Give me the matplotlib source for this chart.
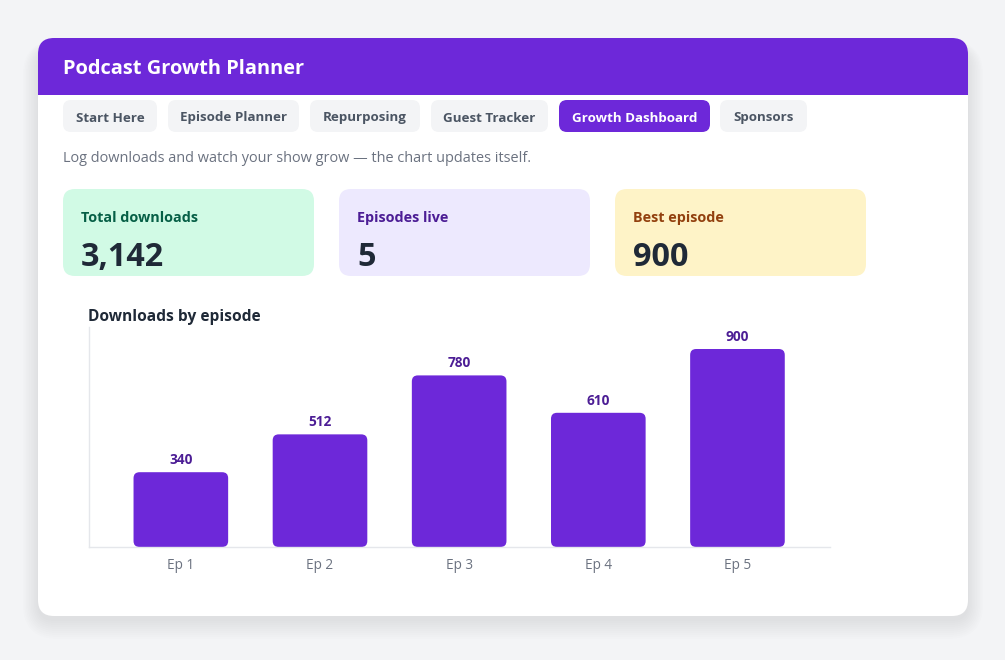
import matplotlib.pyplot as plt
from matplotlib.patches import FancyBboxPatch, Rectangle

plt.rcParams['font.family'] = ['Open Sans', 'DejaVu Sans']

# data
episodes = ['Ep 1', 'Ep 2', 'Ep 3', 'Ep 4', 'Ep 5']
downloads = [340, 512, 780, 610, 900]
tabs = ['Start Here', 'Episode Planner', 'Repurposing', 'Guest Tracker', 'Growth Dashboard', 'Sponsors']
active_tab = 'Growth Dashboard'
kpi_labels = ['Total downloads', 'Episodes live', 'Best episode']
kpi_values = ['{:,}'.format(sum(downloads)), str(len(downloads)), str(max(downloads))]

PURPLE = '#6d28d9'
W, H = 1005, 660

fig = plt.figure(figsize=(W / 100, H / 100), dpi=100)
fig.patch.set_facecolor('#f3f4f6')
bg = fig.add_axes([0, 0, 1, 1])
bg.set_xlim(0, W)
bg.set_ylim(H, 0)
bg.axis('off')


def rr(x0, y0, x1, y1, r, color, alpha=1, z=1):
	p = FancyBboxPatch((x0, y0), x1 - x0, y1 - y0, boxstyle='round,pad=0,rounding_size=%s' % r,
		facecolor=color, edgecolor='none', alpha=alpha, zorder=z)
	bg.add_patch(p)
	return p


# card shadow (soft, mostly below)
for i in range(10):
	g = 1 + i * 2
	rr(38 - g * 0.8, 38 + 12 - g * 0.5, 968 + g * 0.8, 616 + 4 + g, 16 + g, '#111827', 0.009, 0)

rr(38, 38, 968, 616, 16, 'white', z=1)
# header
rr(38, 38, 968, 115, 16, PURPLE, z=2)
bg.add_patch(Rectangle((38, 95), 930, 30, facecolor='white', edgecolor='none', zorder=3))
bg.text(63, 74.5, 'Podcast Growth Planner', color='white', fontsize=14.4, fontweight='bold', va='baseline', zorder=4)

# tabs
tab_x = [(63, 157), (168, 299), (310, 420), (431, 548), (559, 710), (720, 807)]
for (x0, x1), t in zip(tab_x, tabs):
	on = t == active_tab
	rr(x0, 100, x1, 132, 8, PURPLE if on else '#f3f4f6', z=4)
	bg.text((x0 + x1) / 2, 121.5, t, color='white' if on else '#4b5563', fontsize=9.6,
		fontweight='bold', ha='center', va='baseline', zorder=5)

bg.text(63, 162, 'Log downloads and watch your show grow \u2014 the chart updates itself.',
	color='#6b7280', fontsize=10.45, va='baseline', zorder=4)

# kpi cards
kpi_x = [63, 339, 615]
kpi_bg = ['#d1fae5', '#ede9fe', '#fef3c7']
kpi_fg = ['#065f46', '#4c1d95', '#92400e']
for x0, lab, val, c, fc in zip(kpi_x, kpi_labels, kpi_values, kpi_bg, kpi_fg):
	rr(x0, 189, x0 + 251, 276, 12, c, z=4)
	bg.text(x0 + 18, 222, lab, color=fc, fontsize=10.4, fontweight='bold', va='baseline', zorder=5)
	bg.text(x0 + 18, 266, val, color='#1f2937', fontsize=23.3, fontweight='bold', va='baseline', zorder=5)

bg.text(88, 321, 'Downloads by episode', color='#1f2937', fontsize=11.2, fontweight='bold', va='baseline', zorder=5)

# chart
ax = fig.add_axes([89 / W, (H - 547) / H, 741 / W, 220 / H])
ax.set_facecolor('none')
xs = list(range(len(episodes)))
ax.set_xlim(-0.66, len(episodes) - 1 + 0.665)
ax.set_ylim(0, 1000)
bars = ax.bar(xs, downloads, width=0.68, color=PURPLE)
# swap bars for rounded ones
xpx = 741 / (ax.get_xlim()[1] - ax.get_xlim()[0])
ypx = 220 / 1000
for b in bars:
	b.set_visible(False)
	rb = FancyBboxPatch((b.get_x(), b.get_y()), b.get_width(), b.get_height(),
		boxstyle='round,pad=0,rounding_size=%s' % (6 / xpx), mutation_aspect=xpx / ypx,
		facecolor=PURPLE, edgecolor='none', clip_on=False)
	ax.add_patch(rb)
for x, v in zip(xs, downloads):
	ax.annotate(str(v), (x, v), xytext=(0, 5.8), textcoords='offset points', ha='center', va='baseline',
		color='#4c1d95', fontsize=9.8, fontweight='bold')

ax.set_xticks(xs)
ax.set_xticklabels(episodes, color='#6b7280', fontsize=9.8)
ax.set_yticks([])
ax.tick_params(axis='x', length=0, pad=8.2)
for s in ['top', 'right']:
	ax.spines[s].set_visible(False)
for s in ['left', 'bottom']:
	ax.spines[s].set_color('#e5e7eb')
	ax.spines[s].set_linewidth(1)

fig.savefig('out.png', dpi=100, facecolor=fig.get_facecolor())
